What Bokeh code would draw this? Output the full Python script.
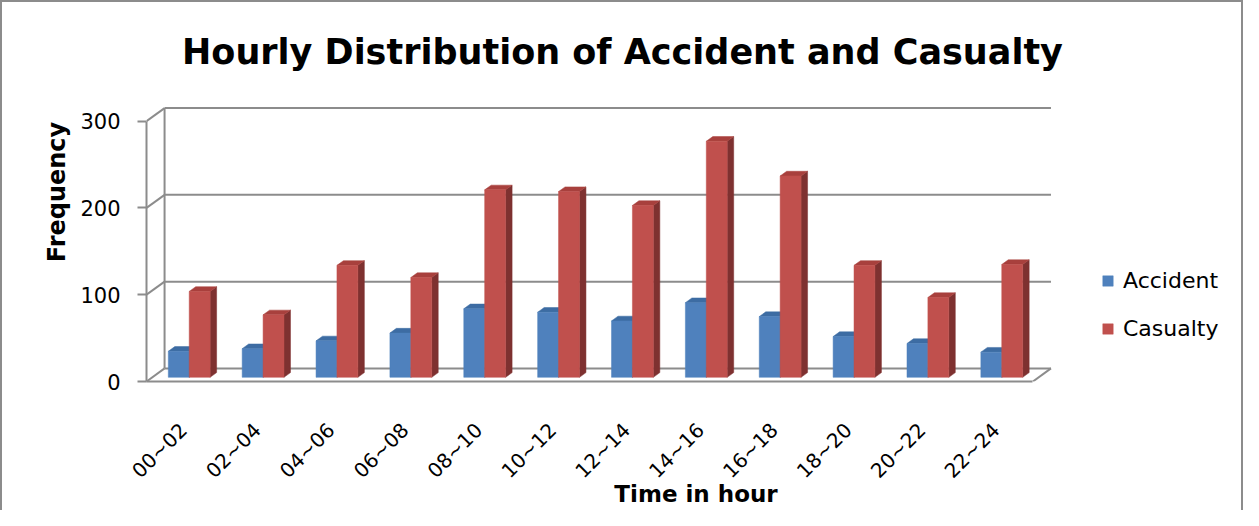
import math
from bokeh.plotting import figure
from bokeh.models import Range1d, FixedTicker, Label, Legend, LegendItem
from bokeh.embed import file_html
from bokeh.resources import INLINE

# ---------------- data ----------------
categories = ["00~02", "02~04", "04~06", "06~08", "08~10", "10~12",
              "12~14", "14~16", "16~18", "18~20", "20~22", "22~24"]
accident = [30, 33, 42, 51, 79, 75, 65, 86, 70, 47, 39, 29]
casualty = [99, 72, 129, 115, 216, 214, 198, 272, 232, 129, 92, 130]
series_names = ["Accident", "Casualty"]
y_ticks = [0, 100, 200, 300]

# ---------------- style ----------------
FONT = "DejaVu Sans"
GRID = "#8c8c8c"
front_cols = ["#4F81BD", "#C0504D"]
top_cols = ["#3D6CA3", "#A8403D"]
side_cols = ["#345E91", "#7E3130"]

n = len(categories)
depth_dx = 0.2446     # floor depth, category units
depth_dy = 15.06      # floor depth, value units
d0, d1 = 0.32, 0.68   # bar front / back depth fractions
bar_w = 0.283

p = figure(width=1243, height=510, output_backend="svg", toolbar_location=None,
           x_range=Range1d(0, 14.878), y_range=Range1d(0, 436.7),
           min_border_left=144, min_border_right=0, min_border_top=0,
           min_border_bottom=131, title=None)
p.styles = {"border-top": "2px solid #8c8c8c", "border-left": "2px solid #8c8c8c",
            "border-right": "2px solid #8c8c8c"}
p.outline_line_color = None
p.xgrid.visible = False
p.ygrid.visible = False
p.background_fill_color = "white"
p.border_fill_color = "white"

# ---------------- walls / grid ----------------
top_val = max(y_ticks)
p.segment(x0=[depth_dx] * len(y_ticks), y0=[v + depth_dy for v in y_ticks],
          x1=[n + depth_dx] * len(y_ticks), y1=[v + depth_dy for v in y_ticks],
          line_color=GRID, line_width=2)
p.segment(x0=[0] * len(y_ticks), y0=y_ticks,
          x1=[depth_dx] * len(y_ticks), y1=[v + depth_dy for v in y_ticks],
          line_color=GRID, line_width=2)
p.segment(x0=[depth_dx], y0=[depth_dy], x1=[depth_dx], y1=[top_val + depth_dy],
          line_color=GRID, line_width=2)
p.segment(x0=[n], y0=[0], x1=[n + depth_dx], y1=[depth_dy],
          line_color=GRID, line_width=2)

# ---------------- 3D bars ----------------
ddx = (d1 - d0) * depth_dx
ddy = (d1 - d0) * depth_dy
front_renderers = []
for s, vals in enumerate([accident, casualty]):
    lefts, rights, bottoms, tops = [], [], [], []
    txs, tys, sxs, sys_ = [], [], [], []
    for i, v in enumerate(vals):
        l = i + 0.5 - bar_w + s * bar_w + d0 * depth_dx
        r = l + bar_w
        b = d0 * depth_dy
        t = v + d0 * depth_dy
        lefts.append(l); rights.append(r); bottoms.append(b); tops.append(t)
        txs.append([l, r, r + ddx, l + ddx]); tys.append([t, t, t + ddy, t + ddy])
        sxs.append([r, r + ddx, r + ddx, r]); sys_.append([b, b + ddy, t + ddy, t])
    p.patches(xs=sxs, ys=sys_, fill_color=side_cols[s], line_color=side_cols[s], line_width=0.5)
    p.patches(xs=txs, ys=tys, fill_color=top_cols[s], line_color=top_cols[s], line_width=0.5)
    fr = p.quad(left=lefts, right=rights, bottom=bottoms, top=tops,
                fill_color=front_cols[s], line_color=front_cols[s], line_width=0.5)
    front_renderers.append(fr)

# ---------------- axes ----------------
yax = p.yaxis[0]
yax.ticker = FixedTicker(ticks=y_ticks)
yax.bounds = (0, top_val)
yax.axis_line_color = GRID
yax.axis_line_width = 2
yax.major_tick_line_color = GRID
yax.major_tick_line_width = 2
yax.major_tick_out = 9
yax.major_tick_in = 0
yax.minor_tick_out = 0
yax.minor_tick_in = 0
yax.major_label_standoff = 17
yax.major_label_text_font = FONT
yax.major_label_text_font_size = "21px"
yax.major_label_text_color = "black"
yax.axis_label = "Frequency"
yax.axis_label_text_font = FONT
yax.axis_label_text_font_style = "bold"
yax.axis_label_text_font_size = "24px"
yax.axis_label_text_color = "black"
yax.axis_label_standoff = 6

xax = p.xaxis[0]
centers = [i + 0.5 for i in range(n)]
xax.ticker = FixedTicker(ticks=centers)
xax.major_label_overrides = {c: cat for c, cat in zip(centers, categories)}
xax.major_label_orientation = math.pi / 4
xax.bounds = (0, n)
xax.axis_line_color = GRID
xax.axis_line_width = 2
xax.major_tick_out = 0
xax.major_tick_in = 0
xax.minor_tick_out = 0
xax.minor_tick_in = 0
xax.major_label_standoff = 45
xax.major_label_text_font = FONT
xax.major_label_text_font_size = "20px"
xax.major_label_text_color = "black"
xax.axis_label = "Time in hour"
xax.axis_label_text_font = FONT
xax.axis_label_text_font_style = "bold"
xax.axis_label_text_font_size = "23px"
xax.axis_label_text_color = "black"
xax.axis_label_standoff = -13

# ---------------- title ----------------
p.add_layout(Label(x=476, y=330, x_units="screen", y_units="screen",
                   text="Hourly Distribution of Accident and Casualty",
                   text_align="center", text_baseline="alphabetic",
                   text_font=FONT, text_font_style="bold", text_font_size="35px",
                   text_color="black"))

# ---------------- legend ----------------
legend = Legend(items=[LegendItem(label=nm, renderers=[r])
                       for nm, r in zip(series_names, front_renderers)],
                location=(955, 40), orientation="vertical",
                glyph_width=13, glyph_height=13, label_standoff=9, spacing=23,
                padding=0, margin=0, border_line_color=None,
                background_fill_alpha=0,
                label_text_font=FONT, label_text_font_size="22px",
                label_text_color="black")
p.add_layout(legend)

open("out.html", "w").write(file_html(p, INLINE))
